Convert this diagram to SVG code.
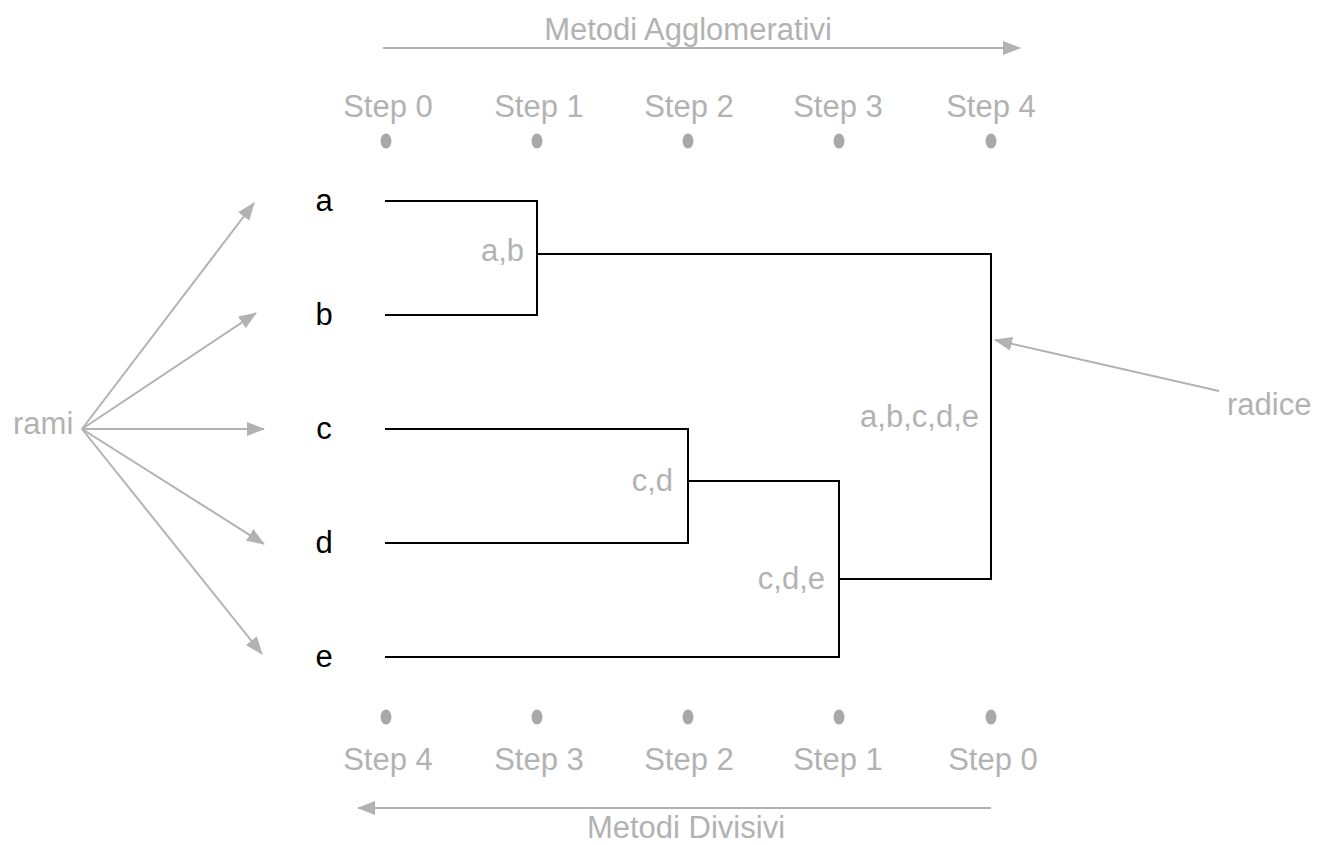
<svg xmlns="http://www.w3.org/2000/svg" width="1318" height="845" viewBox="0 0 1318 845">
<style>
text{font-family:"Liberation Sans",Arial,sans-serif;font-size:31px}
.g{fill:#b2b2b2}
.k{fill:#000}
.gl{stroke:#b2b2b2;stroke-width:2;fill:none}
.bl{stroke:#000;stroke-width:2;fill:none}
.dot{fill:#a8a8a8}
</style>
<defs>
<marker id="ah" markerUnits="userSpaceOnUse" markerWidth="18" markerHeight="14" refX="17" refY="7" orient="auto">
<path d="M0,0 L18,7 L0,14 z" fill="#b2b2b2"/>
</marker>
</defs>
<rect width="1318" height="845" fill="#fff"/>
<g id="top-axis">
<text class="g" x="688" y="40" text-anchor="middle">Metodi Agglomerativi</text>
<line class="gl" x1="383" y1="48" x2="1020" y2="48" marker-end="url(#ah)"/>
<text class="g" x="388" y="117" text-anchor="middle">Step 0</text>
<text class="g" x="539" y="117" text-anchor="middle">Step 1</text>
<text class="g" x="689" y="117" text-anchor="middle">Step 2</text>
<text class="g" x="838" y="117" text-anchor="middle">Step 3</text>
<text class="g" x="991" y="117" text-anchor="middle">Step 4</text>
<ellipse class="dot" cx="386" cy="141" rx="5.5" ry="7.5"/>
<ellipse class="dot" cx="537" cy="141" rx="5.5" ry="7.5"/>
<ellipse class="dot" cx="688" cy="141" rx="5.5" ry="7.5"/>
<ellipse class="dot" cx="839" cy="141" rx="5.5" ry="7.5"/>
<ellipse class="dot" cx="991" cy="141" rx="5.5" ry="7.5"/>
</g>
<g id="bottom-axis">
<ellipse class="dot" cx="386" cy="717" rx="5.5" ry="7.5"/>
<ellipse class="dot" cx="537" cy="717" rx="5.5" ry="7.5"/>
<ellipse class="dot" cx="688" cy="717" rx="5.5" ry="7.5"/>
<ellipse class="dot" cx="839" cy="717" rx="5.5" ry="7.5"/>
<ellipse class="dot" cx="991" cy="717" rx="5.5" ry="7.5"/>
<text class="g" x="388" y="770" text-anchor="middle">Step 4</text>
<text class="g" x="539" y="770" text-anchor="middle">Step 3</text>
<text class="g" x="689" y="770" text-anchor="middle">Step 2</text>
<text class="g" x="838" y="770" text-anchor="middle">Step 1</text>
<text class="g" x="993" y="770" text-anchor="middle">Step 0</text>
<line class="gl" x1="991" y1="808" x2="358" y2="808" marker-end="url(#ah)"/>
<text class="g" x="686" y="838" text-anchor="middle">Metodi Divisivi</text>
</g>
<g id="leaf-a"><text class="k" x="324" y="211" text-anchor="middle">a</text></g>
<g id="leaf-b"><text class="k" x="324" y="325" text-anchor="middle">b</text></g>
<g id="leaf-c"><text class="k" x="324" y="439" text-anchor="middle">c</text></g>
<g id="leaf-d"><text class="k" x="324" y="553" text-anchor="middle">d</text></g>
<g id="leaf-e"><text class="k" x="324" y="667" text-anchor="middle">e</text></g>
<g id="label-ab"><text class="g" x="524" y="261" text-anchor="end">a,b</text></g>
<g id="label-cd"><text class="g" x="673" y="491" text-anchor="end">c,d</text></g>
<g id="label-cde"><text class="g" x="825" y="589" text-anchor="end">c,d,e</text></g>
<g id="label-abcde"><text class="g" x="979" y="427" text-anchor="end">a,b,c,d,e</text></g>
<g id="rami"><text class="g" x="13" y="434">rami</text></g>
<g id="radice"><text class="g" x="1227" y="415">radice</text></g>
<g id="connectors">
<path class="bl" d="M385,201 H537 V315 H385"/>
<path class="bl" d="M537,254 H991 V579 H839"/>
<path class="bl" d="M385,429 H688 V543 H385"/>
<path class="bl" d="M688,481 H839 V657 H385"/>
<line class="gl" x1="82" y1="429" x2="254" y2="203" marker-end="url(#ah)"/>
<line class="gl" x1="82" y1="429" x2="256" y2="313" marker-end="url(#ah)"/>
<line class="gl" x1="82" y1="429" x2="264" y2="429" marker-end="url(#ah)"/>
<line class="gl" x1="82" y1="429" x2="264" y2="544" marker-end="url(#ah)"/>
<line class="gl" x1="82" y1="429" x2="262" y2="654" marker-end="url(#ah)"/>
<line class="gl" x1="1219" y1="391" x2="995" y2="340" marker-end="url(#ah)"/>
</g>
</svg>
